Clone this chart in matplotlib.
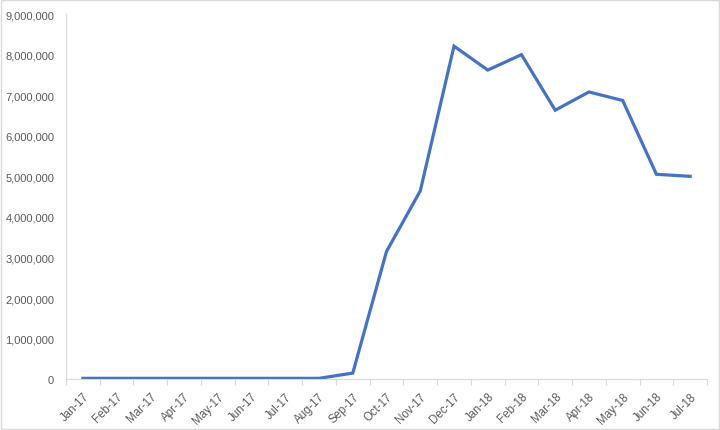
import matplotlib.pyplot as plt
from matplotlib.patches import Rectangle
from matplotlib.ticker import FuncFormatter
import numpy as np

# Data
months = ["Jan-17", "Feb-17", "Mar-17", "Apr-17", "May-17", "Jun-17", "Jul-17",
          "Aug-17", "Sep-17", "Oct-17", "Nov-17", "Dec-17", "Jan-18", "Feb-18",
          "Mar-18", "Apr-18", "May-18", "Jun-18", "Jul-18"]
values = [20000, 20000, 20000, 20000, 20000, 20000, 20000,
          20000, 150000, 3150000, 4640000, 8210000, 7620000, 8000000,
          6630000, 7080000, 6870000, 5050000, 5000000]
y_ticks = list(range(0, 9000001, 1000000))

plt.rcParams['font.family'] = ['Liberation Sans', 'DejaVu Sans']

fig = plt.figure(figsize=(7.2, 4.31), dpi=100)
ax = fig.add_axes([0.0917, 0.118, 0.8903, 0.847])

x = np.arange(len(months))
ax.plot(x, values, color="#4472C4", linewidth=2.3, solid_joinstyle="miter")

ax.set_xlim(-0.5, len(months) - 0.5)
ax.set_ylim(0, 9000000)
ax.set_yticks(y_ticks)
ax.yaxis.set_major_formatter(FuncFormatter(lambda v, p: f"{int(v):,}"))

ax.set_xticks(x)
ax.set_xticklabels(months, rotation=45, ha="right", rotation_mode="anchor")
ax.set_xticks(np.arange(-0.5, len(months), 1.0), minor=True)
ax.tick_params(axis="x", which="major", length=0, pad=8, labelsize=8.3, labelcolor="#595959")
ax.tick_params(axis="x", which="minor", length=4, color="#D9D9D9", width=0.8)
ax.tick_params(axis="y", length=0, pad=8.5, labelsize=8, labelcolor="#595959")

for side in ["top", "right"]:
    ax.spines[side].set_visible(False)
ax.spines["left"].set_color("#D9D9D9")
ax.spines["bottom"].set_color("#D9D9D9")
ax.spines["left"].set_linewidth(0.8)
ax.spines["bottom"].set_linewidth(0.8)

# light chart border
fig.patches.append(Rectangle((0.001, 0.002), 0.997, 0.996, transform=fig.transFigure,
                             fill=False, edgecolor="#D9D9D9", linewidth=1))

fig.savefig("out.png", dpi=100)
